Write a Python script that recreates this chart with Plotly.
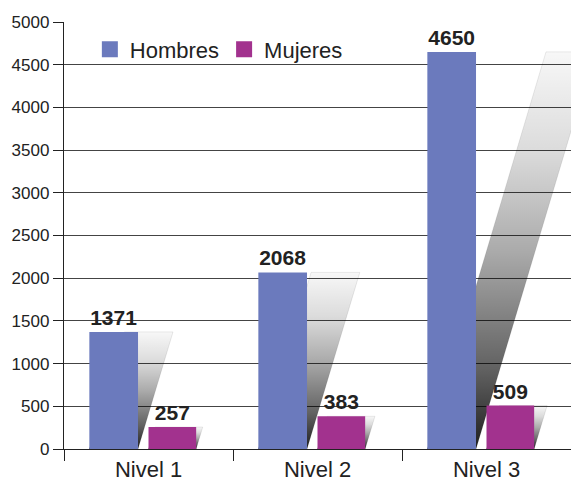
import plotly.graph_objects as go

niveles = ['Nivel 1', 'Nivel 2', 'Nivel 3']
hombres = [1371, 2068, 4650]
mujeres = [257, 383, 509]
y_ticks = list(range(0, 5001, 500))

FONT = 'Liberation Sans Narrow, Arial Narrow, Liberation Sans, Arial, sans-serif'
AZUL = '#6b7abd'
MORADO = '#a2328e'

# bar geometry in category units
series = [('Hombres', hombres, AZUL, -0.35, 0.288),
          ('Mujeres', mujeres, MORADO, 0.0, 0.282)]
SHEAR = 1.51e-4  # horizontal shift (category units) per unit of value for the shadow

fig = go.Figure()

# sheared "shadows" behind each bar, on the base axes
for name, vals, color, off, w in series:
    for i, v in enumerate(vals):
        x0 = i + off
        x1 = x0 + w
        s = SHEAR * v
        fig.add_trace(go.Scatter(
            x=[x0, x1, x1 + s, x0 + s, x0],
            y=[0, 0, v, v, 0],
            mode='lines', fill='toself',
            line=dict(color='rgba(0,0,0,0.12)', width=0.7),
            fillgradient=dict(type='vertical', start=0, stop=v,
                              colorscale=[[0, 'rgba(0,0,0,0.88)'],
                                          [0.2, 'rgba(0,0,0,0.62)'],
                                          [0.5, 'rgba(0,0,0,0.33)'],
                                          [0.75, 'rgba(0,0,0,0.14)'],
                                          [1, 'rgba(0,0,0,0.03)']]),
            showlegend=False, hoverinfo='skip'))

# bars on the overlay axes so they sit above the shadows
for name, vals, color, off, w in series:
    fig.add_trace(go.Bar(
        x=niveles, y=vals, name=name, marker=dict(color=color, line=dict(width=0)),
        offset=off, width=w, text=vals, textposition='outside', cliponaxis=False,
        textfont=dict(family=FONT, size=21, color='#222', weight='bold'),
        showlegend=False, xaxis='x2', yaxis='y2'))

# legend entries with bigger square swatches
for name, vals, color, off, w in series:
    fig.add_trace(go.Scatter(
        x=[None], y=[None], name=name, mode='markers',
        marker=dict(symbol='square', size=16, color=color, line=dict(width=0)),
        xaxis='x2', yaxis='y2'))

# page body adds an 8px margin, so the figure is 8px smaller than the window
fig.update_layout(
    width=571, height=476,
    margin=dict(l=56, r=8, t=14, b=35, autoexpand=False),
    plot_bgcolor='white', paper_bgcolor='white',
    font=dict(family=FONT, color='#222'),
    showlegend=True,
    legend=dict(orientation='h', x=0.051, y=0.985, xanchor='left', yanchor='top',
                font=dict(size=22, family=FONT, color='#222'),
                bgcolor='rgba(0,0,0,0)', itemwidth=30, itemsizing='trace'),
    xaxis=dict(range=[-0.5, 2.5], tickvals=[0, 1, 2], ticktext=niveles, ticks='',
               showgrid=False, zeroline=False, showline=True, linecolor='#222', linewidth=1.3,
               automargin=False,
               tickfont=dict(size=22, family=FONT, color='#222'),
               minor=dict(tickvals=[-0.5, 0.5, 1.5, 2.5], ticks='outside', ticklen=11,
                          tickcolor='#222', tickwidth=1.3, showgrid=False)),
    yaxis=dict(range=[0, 5000], tickvals=y_ticks, ticks='outside', ticklen=10,
               tickcolor='#222', tickwidth=1.3, automargin=False,
               showgrid=True, gridcolor='#444', gridwidth=1.3, zeroline=False,
               showline=True, linecolor='#222', linewidth=1.3,
               tickfont=dict(size=17, family=FONT, color='#222')),
    xaxis2=dict(overlaying='x', range=[-0.5, 2.5], visible=False, type='category'),
    yaxis2=dict(overlaying='y', range=[0, 5000], visible=False),
)

fig.write_html("out.html")
